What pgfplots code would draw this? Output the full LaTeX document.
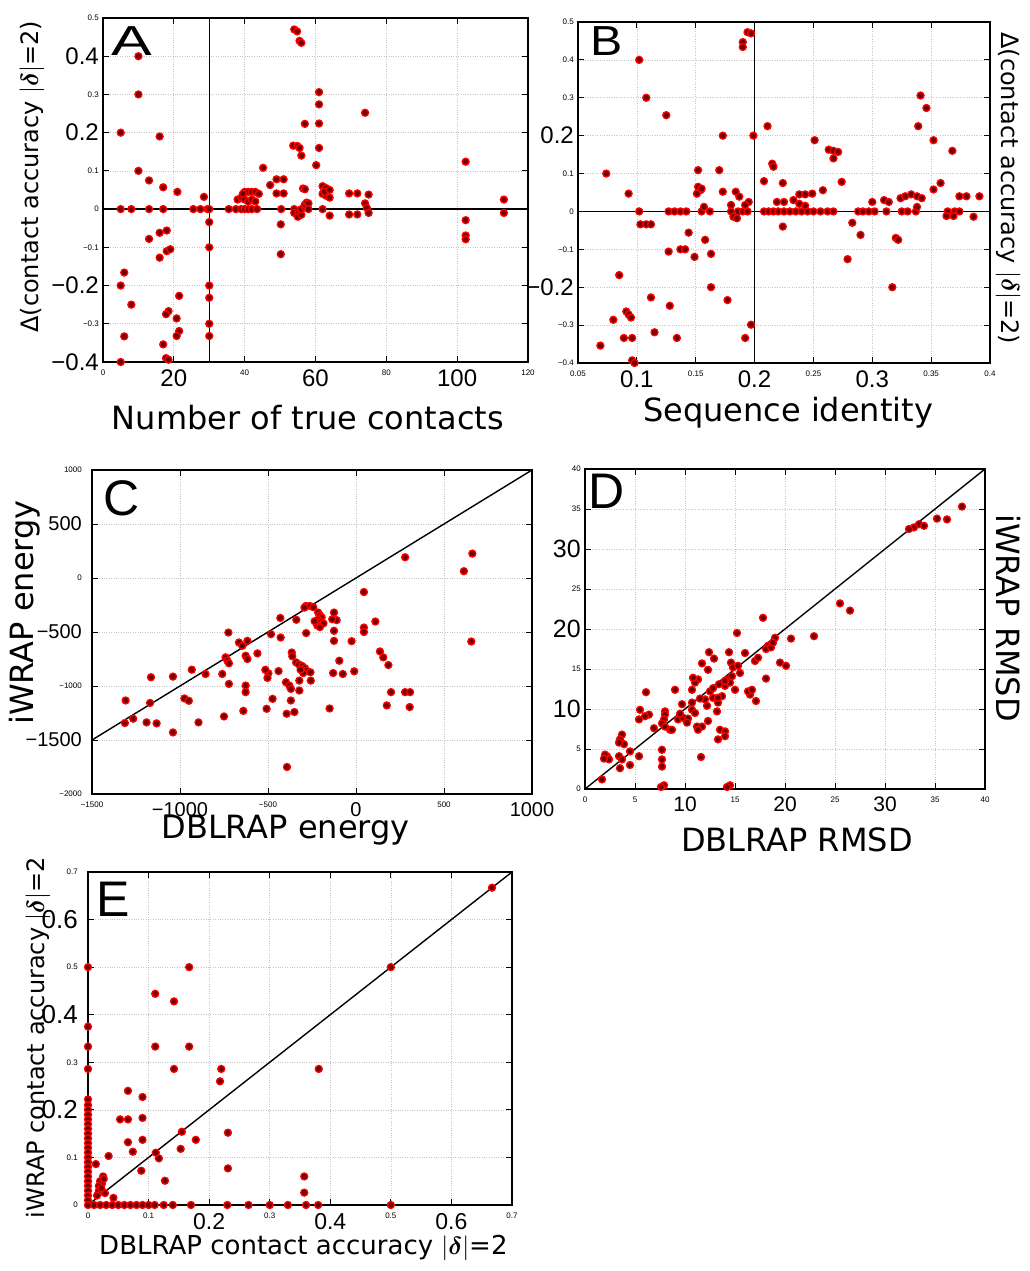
\documentclass[border=0pt]{standalone}
\usepackage{fontspec}
\setmainfont{DejaVu Sans}
\newfontfamily\tickfont{Liberation Sans}
\usepackage{bm}
\usepackage{graphicx}
\usepackage{pgfplots}
\pgfplotsset{compat=1.18}

% big / tiny tick labels (the figure mixes both)
\newcommand{\tb}[2][24]{{\tickfont\fontsize{#1}{#1}\selectfont #2}}
\newcommand{\ts}[1]{{\tickfont\fontsize{8}{8}\selectfont #1}}
\newcommand{\dl}{$|\bm{\delta}|$=2}

\pgfplotsset{
  panel/.style={
    scale only axis, anchor=south west, clip=false,
    grid=major, major grid style={gray!45, dotted, line width=0.7pt},
    axis line style={black, line width=2pt},
    tick style={black, line width=0.9pt},
    tick align=inside, major tick length=6pt,
    xticklabel style={anchor=north, inner sep=0pt, yshift=-8pt},
    yticklabel style={anchor=east, inner sep=0pt, xshift=-4pt},
    label style={font=\fontsize{32}{36}\selectfont, anchor=center},
  },
  dots/.style={only marks, mark=*, mark size=3.5pt,
    mark options={fill=red!45!black, draw=red, line width=1.3pt}},
  refline/.style={black, line width=1.4pt, no marks},
}
\tikzset{letter/.style={anchor=base west, inner sep=0pt, font={\tickfont\fontsize{#1}{#1}\selectfont}}}

\begin{document}
\begin{tikzpicture}[x=1pt,y=1pt]
\useasboundingbox (0,0) rectangle (1030,1271);

% ---------------- A ----------------
\begin{axis}[panel, at={(103pt,909pt)}, width=425pt, height=344pt,
  xmin=0, xmax=120, ymin=-0.4, ymax=0.5,
  xtick={0,20,40,60,80,100,120},
  xticklabels={\ts{0},\tb{20},\ts{40},\tb{60},\ts{80},\tb{100},\ts{120}},
  ytick={-0.4,-0.3,-0.2,-0.1,0,0.1,0.2,0.3,0.4,0.5},
  yticklabels={\tb{−0.4},\ts{−0.3},\tb{−0.2},\ts{−0.1},\ts{0},\ts{0.1},\tb{0.2},\ts{0.3},\tb{0.4},\ts{0.5}},
  xlabel={Number of true contacts},
  xlabel style={at={(axis description cs:0.482,-0.163)}},
  ylabel={Δ(contact accuracy \dl)},
  ylabel style={font=\fontsize{24}{28}\selectfont, at={(axis description cs:-0.167,0.538)}},
]
\addplot[refline] coordinates {(30,-0.4)(30,0.5)};
\addplot[refline] coordinates {(0,0)(120,0)};
\addplot[dots] coordinates {
(54,0.47)(54.8,0.465)(55.5,0.44)(56,0.435)
(10,0.4)(10,0.3)(5,0.2)(16,0.19)(10,0.1)(13,0.075)(17,0.057)(21,0.045)(28.5,0.032)
(5,0)(8,0)(13,0)(17,0)(25.5,0)(27.5,0)(29.5,0)
(13,-0.078)(16,-0.062)(18,-0.056)(16,-0.127)(18,-0.11)(19,-0.105)
(6,-0.166)(5,-0.2)(8,-0.25)(21.5,-0.227)(18.5,-0.267)(17.8,-0.275)(20.8,-0.286)
(21.5,-0.319)(20.8,-0.332)(6,-0.333)(17,-0.354)(17.8,-0.39)(18.5,-0.394)(5,-0.4)
(30,-0.034)(30,-0.1)(30,-0.2)(30,-0.232)(30,-0.3)(30,-0.332)(30,0)
(35.5,0)(37.5,0)(39,0)(40,0)(41,0)(42,0)(43.5,0)
(38,0.025)(39,0.03)(40,0.025)(41,0.02)(42,0.025)(43,0.02)
(40,0.045)(41,0.045)(42,0.045)(43,0.045)(44,0.04)(39.5,0.04)
(45.2,0.108)(47.2,0.063)(49,0.078)(51,0.078)(49,0.041)(51,0.041)(50.2,-0.04)(50.2,-0.118)(50.3,0)
(53.7,0.166)(54.9,0.165)(55.5,0.16)(56,0.14)(57,0.223)
(54,0)(54,-0.01)(55,-0.012)(55,-0.02)(56,-0.015)(56,0)(57,0.005)(57,0.012)(57.5,0.017)(58,0.015)
(56.5,0.054)(57,0.052)(58,0)
(60.2,0.115)(61,0.306)(61,0.274)(61,0.224)(61,0.16)
(62,0.06)(62.5,0.05)(63,0.055)(62,0.04)(63,0.035)(64,0.03)(62.5,0.045)(64,0.05)(62,0)(64,-0.017)
(69.5,0.041)(71.8,0.041)(69.5,-0.014)(71.8,-0.014)(74,0.252)(74,0.015)(75,0.038)(74.5,0.003)(75,-0.01)
(102.4,0.124)(102.4,-0.029)(102.4,-0.069)(102.4,-0.079)(113.2,0.025)(113.2,-0.01)
};
\node[letter=42] at (rel axis cs:0.02,0.892) {\scalebox{1.45}[1]{A}};
\end{axis}

% ---------------- B ----------------
\begin{axis}[panel, at={(578pt,908pt)}, width=412pt, height=341pt,
  xmin=0.05, xmax=0.4, ymin=-0.4, ymax=0.5,
  xtick={0.05,0.1,0.15,0.2,0.25,0.3,0.35,0.4},
  xticklabels={\ts{0.05},\tb{0.1},\ts{0.15},\tb{0.2},\ts{0.25},\tb{0.3},\ts{0.35},\ts{0.4}},
  ytick={-0.4,-0.3,-0.2,-0.1,0,0.1,0.2,0.3,0.4,0.5},
  yticklabels={\ts{−0.4},\ts{−0.3},\tb{−0.2},\ts{−0.1},\ts{0},\ts{0.1},\tb{0.2},\ts{0.3},\ts{0.4},\ts{0.5}},
  xlabel={Sequence identity},
  xlabel style={at={(axis description cs:0.51,-0.147)}},
  ylabel={Δ(contact accuracy \dl)},
  ylabel style={font=\fontsize{24}{28}\selectfont, rotate=180, at={(axis description cs:1.044,0.513)}},
]
\addplot[refline] coordinates {(0.2,-0.4)(0.2,0.5)};
\addplot[refline] coordinates {(0.05,0)(0.4,0)};
\addplot[dots] coordinates {
(0.194,0.473)(0.19,0.447)(0.19,0.434)(0.197,0.47)
(0.102,0.4)(0.108,0.3)(0.125,0.254)(0.173,0.2)(0.199,0.2)(0.211,0.225)(0.074,0.1)(0.152,0.109)(0.17,0.109)
(0.152,0.065)(0.154,0.056)(0.151,0.047)(0.155,0.06)(0.173,0.052)(0.093,0.047)(0.208,0.08)
(0.215,0.126)(0.216,0.118)(0.224,0.075)
(0.251,0.188)(0.263,0.163)(0.267,0.16)(0.271,0.157)(0.267,0.14)(0.258,0.056)(0.274,0.078)
(0.341,0.306)(0.346,0.273)(0.339,0.225)(0.352,0.188)(0.368,0.16)(0.358,0.075)(0.352,0.058)
(0.102,0)(0.127,0)(0.132,0)(0.137,0)(0.142,0)(0.155,0)(0.162,0)(0.18,0)(0.186,0)(0.19,0)(0.194,0)
(0.208,0)(0.212,0)(0.216,0)(0.22,0)(0.225,0)(0.23,0)(0.235,0)(0.24,0)(0.245,0)(0.25,0)(0.256,0)
(0.262,0)(0.267,0)(0.288,0)(0.292,0)(0.297,0)(0.302,0)(0.312,0)(0.325,0)(0.33,0)(0.337,0)
(0.364,0)(0.37,0)(0.374,0)
(0.157,0.012)(0.18,0.017)(0.184,0.052)(0.187,0.039)(0.195,0.025)(0.192,0.017)(0.182,-0.014)(0.185,-0.018)
(0.219,0.025)(0.225,0.025)(0.233,0.03)(0.238,0.045)(0.243,0.045)(0.249,0.047)(0.238,0.02)(0.243,0.015)
(0.3,0.025)(0.31,0.03)(0.314,0.025)(0.324,0.035)(0.328,0.04)(0.333,0.045)(0.338,0.04)(0.342,0.035)
(0.338,0.012)(0.363,-0.012)(0.369,-0.012)(0.374,0.04)(0.38,0.04)(0.391,0.04)(0.386,-0.014)
(0.103,-0.034)(0.108,-0.034)(0.112,-0.034)(0.144,-0.056)(0.158,-0.075)(0.163,-0.112)(0.127,-0.106)
(0.137,-0.1)(0.141,-0.1)(0.149,-0.12)(0.224,-0.04)(0.283,-0.03)(0.29,-0.062)(0.279,-0.126)
(0.32,-0.07)(0.322,-0.075)(0.317,-0.2)(0.163,-0.2)(0.085,-0.168)(0.112,-0.227)(0.177,-0.234)
(0.128,-0.249)(0.091,-0.264)(0.093,-0.272)(0.095,-0.28)(0.08,-0.286)(0.197,-0.299)(0.115,-0.319)
(0.089,-0.334)(0.096,-0.334)(0.134,-0.334)(0.192,-0.334)(0.069,-0.354)(0.096,-0.393)(0.098,-0.4)
};
\node[letter=42] at (rel axis cs:0.03,0.903) {\scalebox{1.15}[1]{B}};
\end{axis}

% ---------------- C ----------------
\begin{axis}[panel, at={(92pt,477pt)}, width=440pt, height=324pt,
  xmin=-1500, xmax=1000, ymin=-2000, ymax=1000,
  yticklabel style={xshift=-6pt},
  xtick={-1500,-1000,-500,0,500,1000},
  xticklabels={\ts{−1500},\tb[20]{−1000},\ts{−500},\tb[20]{0},\ts{500},\tb[20]{1000}},
  ytick={-2000,-1500,-1000,-500,0,500,1000},
  yticklabels={\ts{−2000},\tb[20]{−1500},\ts{−1000},\tb[20]{−500},\ts{0},\tb[20]{500},\ts{1000}},
  xlabel={DBLRAP energy},
  xlabel style={at={(axis description cs:0.44,-0.112)}},
  ylabel={iWRAP energy},
  ylabel style={at={(axis description cs:-0.152,0.56)}},
]
\addplot[refline] coordinates {(-1500,-1500)(1000,1000)};
\addplot[dots] coordinates {
(279,192)(613,63)(661,226)(655,-588)(45,-130)(110,-403)(45,-459)(45,-500)(-25,-585)
(-125,-320)(-110,-390)(-135,-382)(-125,-489)(-125,-582)(-95,-766)(-130,-880)(-75,-889)(-10,-864)
(-215,-320)(-205,-345)(-195,-365)(-215,-385)(-200,-405)(-185,-420)(-220,-440)(-205,-455)(-235,-400)
(-285,-259)(-262,-259)(-243,-270)(-293,-274)(-339,-387)(-283,-510)(-430,-370)(-428,-551)(-483,-520)
(-365,-690)(-362,-725)(-340,-782)(-325,-800)(-305,-815)(-290,-835)(-282,-857)(-300,-880)(-315,-850)
(-440,-862)(-498,-882)(-503,-925)(-515,-850)(-322,-950)(-257,-950)(-259,-873)(-322,-1042)
(-398,-965)(-379,-996)(-370,-1027)(-474,-1119)(-370,-1134)(-508,-1211)(-394,-1257)(-350,-1241)
(-150,-1208)(-392,-1750)
(-560,-698)(-627,-720)(-617,-750)(-665,-597)(-646,-628)(-617,-582)(-725,-505)
(-741,-735)(-731,-766)(-722,-790)(-760,-889)(-722,-981)(-627,-996)(-627,-1057)(-640,-1230)(-750,-1282)
(-855,-889)(-933,-849)(-975,-1115)(-950,-1137)(-895,-1337)(-1040,-1430)(-1040,-913)
(-1165,-919)(-1170,-1157)(-1190,-1337)(-1133,-1346)(-1309,-1134)(-1313,-1343)(-1266,-1303)
(136,-680)(155,-735)(184,-806)(175,-1180)(199,-1057)(279,-1057)(307,-1057)(305,-1195)
};
\node[letter=50] at (rel axis cs:0.025,0.861) {C};
\end{axis}

% ---------------- D ----------------
\begin{axis}[panel, at={(585pt,482pt)}, width=400pt, height=320pt,
  xmin=0, xmax=40, ymin=0, ymax=40,
  xtick={0,5,10,15,20,25,30,35,40},
  xticklabels={\ts{0},\ts{5},\tb[21]{10},\ts{15},\tb[21]{20},\ts{25},\tb[21]{30},\ts{35},\ts{40}},
  ytick={0,5,10,15,20,25,30,35,40},
  yticklabels={\ts{0},\ts{5},\tb[25]{10},\ts{15},\tb[25]{20},\ts{25},\tb[25]{30},\ts{35},\ts{40}},
  xlabel={DBLRAP RMSD},
  xlabel style={at={(axis description cs:0.53,-0.16)}},
  ylabel={iWRAP RMSD},
  ylabel style={rotate=180, at={(axis description cs:1.058,0.534)}},
]
\addplot[refline] coordinates {(0,0)(40,40)};
\addplot[dots] coordinates {
(37.7,35.3)(36.2,33.7)(35.2,33.8)(33.4,33.1)(33.9,32.9)(32.9,32.7)(32.4,32.5)(25.5,23.2)(26.5,22.3)
(22.9,19.1)(20.6,18.8)(19,18.9)(18.3,17.9)(18.1,17.5)(17.8,21.4)(19.5,15.8)(20.1,15.4)(18.1,13.8)
(17.1,11)(16.5,11.8)(16.3,12.2)
(15.2,19.5)(12.4,17.1)(14.4,17.1)(16,17)(11.7,15.7)(12.9,16.3)(12.3,14.9)(14.6,15.8)(14.8,15.2)
(18.6,17.7)(18.8,18.3)(17,16)(17.3,16.4)(16.7,12.4)(15,12.4)(11.3,13.7)(11,13.3)(10.8,13.9)
(10.7,12.4)(9,12.4)(6.1,12.1)(12.5,12.2)(12.8,11.4)(13.7,11.6)(14.3,13.7)(14,12.9)(14.5,13.3)
(12,11.2)(12.2,10.4)(13.3,10.8)(13.3,11.4)(10.7,10.8)(9.7,10.6)(8,9.7)(8,9.3)(7.9,8.7)(7.7,8.2)
(8,7.8)(8.5,7.4)(5.5,9.9)(5.4,8.7)(6.4,9.3)(6,9.1)(9.3,8.7)(9.8,8.9)(10.3,8.8)(10.2,8.3)(6.9,7.6)
(8.7,7.4)(11.2,7.8)(11.7,7.8)(12.3,8.5)(11.3,7.4)(13.5,7.4)(14,7.2)(14,6.6)(13.3,6.2)
(3.7,6.8)(3.5,6.2)(3.9,5.6)(3.4,5.8)(2.2,4.1)(2.4,3.7)(3.4,4.1)(3.7,3.7)(4.5,4.7)(5.4,4.1)
(3.5,2.6)(4.5,3)(7.7,4.9)(7.7,3.7)(7.7,2.8)(11.6,4)(1.7,1.2)(7.9,0.46)(7.6,0.25)(14.5,0.46)(14.2,0.25)
(15.3,15.4)(15.5,14.5)(14.7,14.1)(14,13.5)(10.7,9.9)(11,9.5)(13.2,9.7)(12.8,12.6)(13.4,13.1)
(11.5,11.3)(9.5,9.4)(2,4.3)(1.9,3.8)
};
\node[letter=50] at (rel axis cs:0.008,0.878) {D};
\end{axis}

% ---------------- E ----------------
\begin{axis}[panel, at={(88pt,66pt)}, width=424pt, height=333pt,
  xmin=0, xmax=0.7, ymin=0, ymax=0.7,
  yticklabel style={xshift=-6pt},
  xtick={0,0.1,0.2,0.3,0.4,0.5,0.6,0.7},
  xticklabels={\ts{0},\ts{0.1},\tb[23]{0.2},\ts{0.3},\tb[23]{0.4},\ts{0.5},\tb[23]{0.6},\ts{0.7}},
  ytick={0,0.1,0.2,0.3,0.4,0.5,0.6,0.7},
  yticklabels={\ts{0},\ts{0.1},\tb[26]{0.2},\ts{0.3},\tb[26]{0.4},\ts{0.5},\tb[26]{0.6},\ts{0.7}},
  xlabel={DBLRAP contact accuracy \dl},
  xlabel style={font=\fontsize{26}{30}\selectfont, at={(axis description cs:0.508,-0.13)}},
  ylabel={iWRAP contact accuracy \dl},
  ylabel style={font=\fontsize{24}{28}\selectfont, at={(axis description cs:-0.118,0.503)}},
]
\addplot[refline] coordinates {(0,0)(0.7,0.7)};
\addplot[dots] coordinates {
(0.667,0.667)(0.5,0.5)(0.5,0)(0.167,0.5)(0.111,0.444)(0.142,0.428)(0.111,0.333)(0.167,0.333)
(0.142,0.286)(0.22,0.286)(0.218,0.26)(0.381,0.286)(0.231,0.152)(0.231,0.077)(0.357,0.06)(0.357,0.026)
(0.066,0.24)(0.09,0.227)(0.053,0.18)(0.066,0.18)(0.09,0.183)(0.066,0.132)(0.074,0.112)(0.09,0.137)
(0.155,0.154)(0.153,0.118)(0.178,0.137)(0.112,0.11)(0.117,0.098)(0.127,0.051)(0.088,0.072)
(0.034,0.103)(0.013,0.086)(0.02,0.05)(0.023,0.045)(0.018,0.04)(0.025,0.06)(0.018,0.03)(0.028,0.025)
(0.015,0.02)(0.022,0.035)(0.026,0.055)(0.042,0.015)
(0.01,0)(0.02,0)(0.03,0)(0.04,0)(0.05,0)(0.06,0)(0.07,0)(0.08,0)(0.09,0)(0.1,0)(0.11,0)(0.125,0)
(0.14,0)(0.17,0)(0.23,0)(0.265,0)(0.3,0)(0.33,0)(0.36,0)(0.38,0)
(0,0.5)(0,0.375)(0,0.333)(0,0.286)(0,0.222)(0,0.21)(0,0.2)(0,0.19)(0,0.18)(0,0.17)(0,0.16)
(0,0.15)(0,0.14)(0,0.13)(0,0.12)(0,0.11)(0,0.1)(0,0.09)(0,0.08)(0,0.07)(0,0.06)(0,0.05)
(0,0.04)(0,0.03)(0,0.02)(0,0.01)(0,0)
};
\node[letter=50] at (rel axis cs:0.019,0.867) {E};
\end{axis}
\end{tikzpicture}
\end{document}
